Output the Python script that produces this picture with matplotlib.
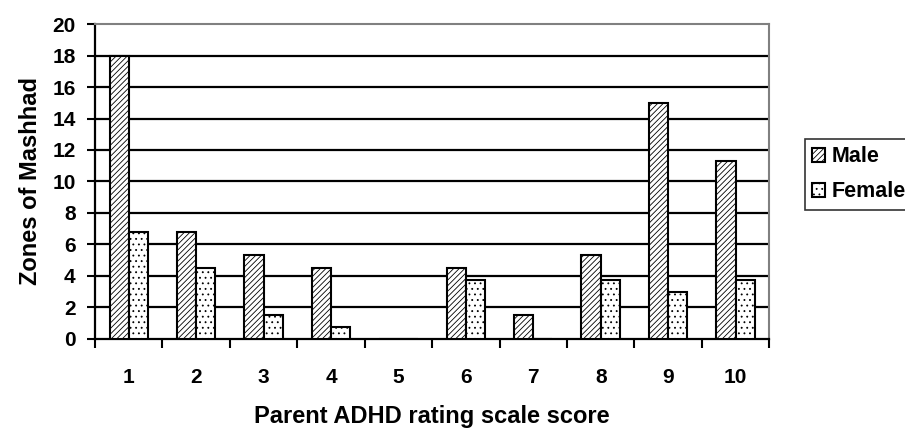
import matplotlib
matplotlib.use('Agg')
import matplotlib.pyplot as plt
import numpy as np

plt.rcParams['font.family'] = ['Liberation Sans', 'DejaVu Sans']
plt.rcParams['font.weight'] = 'bold'
plt.rcParams['hatch.linewidth'] = 0.6

categories = ['1', '2', '3', '4', '5', '6', '7', '8', '9', '10']
male = [18, 6.8, 5.3, 4.5, 0, 4.5, 1.5, 5.3, 15, 11.3]
female = [6.8, 4.5, 1.5, 0.75, 0, 3.75, 0, 3.75, 3, 3.75]
series_names = ['Male', 'Female']

fig = plt.figure(figsize=(9.05, 4.3), dpi=100)
ax = fig.add_axes([0.105, 0.212, 0.745, 0.732])

x = np.arange(len(categories))
w = 0.285
for i in range(1, 10):
    ax.axhline(i * 2, color='black', linewidth=1.6, zorder=1)

ax.bar(x - w / 2, male, width=w, facecolor='white', edgecolor='black',
       hatch='//////', linewidth=1.5, zorder=3, label=series_names[0])
ax.bar(x + w / 2, female, width=w, facecolor='white', edgecolor='black',
       hatch='...', linewidth=1.5, zorder=3, label=series_names[1])

ax.set_xlim(-0.5, len(categories) - 0.5)
ax.set_ylim(0, 20)
ax.set_yticks(range(0, 21, 2))
ax.set_xticks(x)
ax.set_xticklabels(categories)
ax.set_xticks(np.arange(-0.5, len(categories), 1), minor=True)
ax.tick_params(axis='x', which='major', length=0, pad=21, labelsize=15)
ax.tick_params(axis='x', which='minor', length=6.5, width=1.5, direction='out')
ax.tick_params(axis='y', length=6, width=1.5, labelsize=15, pad=8)

for s in ['top', 'right']:
    ax.spines[s].set_color('#808080')
    ax.spines[s].set_linewidth(1.5)
for s in ['left', 'bottom']:
    ax.spines[s].set_color('black')
    ax.spines[s].set_linewidth(1.6)

ax.set_xlabel('Parent ADHD rating scale score', fontsize=17, fontweight='bold', labelpad=13)
ax.set_ylabel('Zones of Mashhad', fontsize=17, fontweight='bold', labelpad=7)

leg = fig.legend(loc='upper left', bbox_to_anchor=(0.889, 0.677), frameon=True,
                 fancybox=False, edgecolor='black', fontsize=15.5,
                 handlelength=0.6, handleheight=0.6, handletextpad=0.3,
                 borderpad=0.35, labelspacing=0.65, borderaxespad=0)
leg.get_frame().set_linewidth(1.2)
for t in leg.get_texts():
    t.set_fontweight('bold')

plt.savefig('out.png', dpi=100, facecolor='white')
plt.close()
